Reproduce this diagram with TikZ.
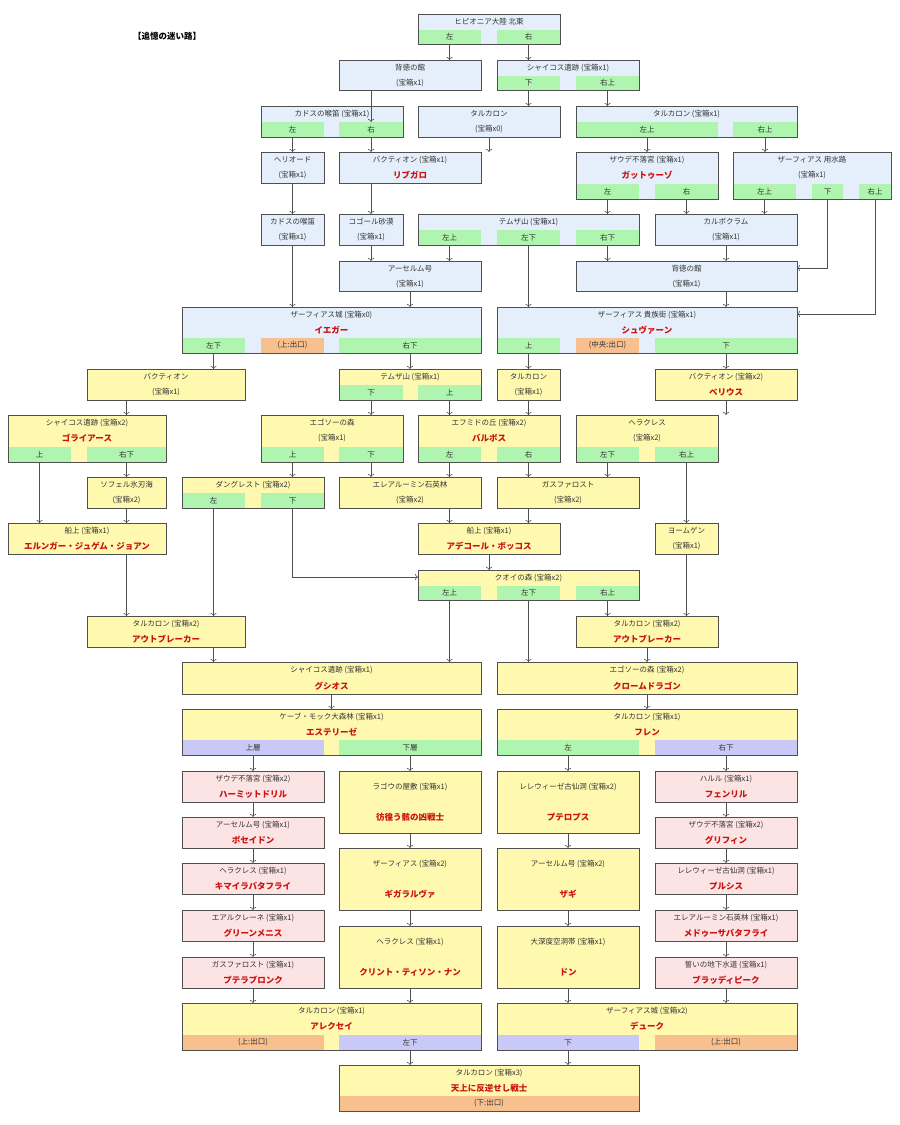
\documentclass[tikz,border=0pt]{standalone}
\usepackage{fontspec}
\setmainfont{Noto Sans CJK JP}
\usetikzlibrary{arrows.meta}
\definecolor{cblue}{HTML}{E4EFFB}
\definecolor{cyel}{HTML}{FFF9AF}
\definecolor{cpink}{HTML}{FDE4E4}
\definecolor{cgreen}{HTML}{AFF5AF}
\definecolor{corange}{HTML}{F9C08F}
\definecolor{clav}{HTML}{C9C9F7}
\definecolor{cred}{HTML}{CC1111}
\definecolor{cline}{HTML}{505050}
\tikzset{
 bxs/.style={draw=cline, line width=0.7pt, inner sep=0pt, outer sep=0pt},
 bline/.style={draw=cline, line width=0.7pt},
 stps/.style={inner sep=0pt, outer sep=0pt, font=\fontsize{7.5}{8}\selectfont, text=black!80},
 tt/.style={font=\fontsize{7.5}{8}\selectfont, inner sep=0pt, text=black!80},
 rd/.style={font=\fontsize{8.5}{9}\bfseries\selectfont, text=cred, inner sep=0pt},
 arr/.style={draw=cline, line width=0.6pt, -{To[length=3pt,width=6pt]}},
}
\newcommand\bx[6]{\node[bxs,fill=#6,minimum width={(#4)-(#2)},minimum height={(#5)-(#3)}] (#1) at ({((#2)+(#4))/2},{((#3)+(#5))/2}) {};}
\newcommand\stp[7]{\node[stps,fill=#6,minimum width={(#3)-(#2)},minimum height={(#5)-(#4)}] (#1) at ({((#2)+(#3))/2},{((#4)+(#5))/2}) {#7};}
\newcommand\bd[1]{\draw[bline] (#1.north west) rectangle (#1.south east);}
\newcommand\tx[4]{\node[tt] at ({((#1)+(#2))/2},#3) {#4};}
\newcommand\rt[4]{\node[rd] at ({((#1)+(#2))/2},#3) {#4};}
\begin{document}
\begin{tikzpicture}[x=1pt,y=-1pt]
\fill[white] (0,0) rectangle (900,1125);
\useasboundingbox (0,0) rectangle (900,1125);
\node[font=\fontsize{8.5}{9}\bfseries\selectfont] (ttl) at (167,36) {【追憶の迷い路】};
% Row 1
\bx{A}{418}{14}{560}{44}{cblue}\tx{418}{560}{22}{ヒピオニア大陸 北東}
\stp{Al}{418}{481}{30}{44}{cgreen}{左}\stp{Ar}{497}{560}{30}{44}{cgreen}{右}\bd{A}
% Row 2
\bx{B1}{339}{60}{481}{90}{cblue}\tx{339}{481}{68}{背徳の館}\tx{339}{481}{83}{(宝箱x1)}
\bx{B2}{497}{60}{639}{90}{cblue}\tx{497}{639}{68}{シャイコス遺跡 (宝箱x1)}
\stp{B2d}{497}{560}{76}{90}{cgreen}{下}\stp{B2r}{576}{639}{76}{90}{cgreen}{右上}\bd{B2}
% Row 3
\bx{C1}{261}{106}{403}{137}{cblue}\tx{261}{403}{114}{カドスの喉笛 (宝箱x1)}
\stp{C1l}{261}{324}{122}{137}{cgreen}{左}\stp{C1r}{339}{403}{122}{137}{cgreen}{右}\bd{C1}
\bx{C2}{418}{106}{560}{137}{cblue}\tx{418}{560}{114}{タルカロン}\tx{418}{560}{129}{(宝箱x0)}
\bx{C3}{576}{106}{797}{137}{cblue}\tx{576}{797}{114}{タルカロン (宝箱x1)}
\stp{C3l}{576}{718}{122}{137}{cgreen}{左上}\stp{C3r}{733}{797}{122}{137}{cgreen}{右上}\bd{C3}
% Row 4
\bx{D1}{261}{152}{324}{183}{cblue}\tx{261}{324}{160}{ヘリオード}\tx{261}{324}{175}{(宝箱x1)}
\bx{D2}{339}{152}{481}{183}{cblue}\tx{339}{481}{160}{バクティオン (宝箱x1)}\rt{339}{481}{175}{リブガロ}
\bx{D3}{576}{152}{718}{199}{cblue}\tx{576}{718}{160}{ザウデ不落宮 (宝箱x1)}\rt{576}{718}{175}{ガットゥーゾ}
\stp{D3l}{576}{639}{184}{199}{cgreen}{左}\stp{D3r}{655}{718}{184}{199}{cgreen}{右}\bd{D3}
\bx{D4}{733}{152}{891}{199}{cblue}\tx{733}{891}{160}{ザーフィアス 用水路}\tx{733}{891}{175}{(宝箱x1)}
\stp{D4l}{733}{796}{184}{199}{cgreen}{左上}\stp{D4d}{812}{843}{184}{199}{cgreen}{下}\stp{D4r}{859}{891}{184}{199}{cgreen}{右上}\bd{D4}
% Row 5
\bx{E1}{261}{214}{324}{245}{cblue}\tx{261}{324}{222}{カドスの喉笛}\tx{261}{324}{237}{(宝箱x1)}
\bx{E2}{339}{214}{403}{245}{cblue}\tx{339}{403}{222}{コゴール砂漠}\tx{339}{403}{237}{(宝箱x1)}
\bx{E3}{418}{214}{639}{245}{cblue}\tx{418}{639}{222}{テムザ山 (宝箱x1)}
\stp{E3a}{418}{481}{230}{245}{cgreen}{左上}\stp{E3b}{497}{560}{230}{245}{cgreen}{左下}\stp{E3c}{576}{639}{230}{245}{cgreen}{右下}\bd{E3}
\bx{E4}{655}{214}{797}{245}{cblue}\tx{655}{797}{222}{カルボクラム}\tx{655}{797}{237}{(宝箱x1)}
% Row 6
\bx{F1}{339}{261}{481}{291}{cblue}\tx{339}{481}{269}{アーセルム号}\tx{339}{481}{284}{(宝箱x1)}
\bx{F2}{576}{261}{797}{291}{cblue}\tx{576}{797}{269}{背徳の館}\tx{576}{797}{284}{(宝箱x1)}
% Row 7
\bx{G1}{182}{307}{481}{353}{cblue}\tx{182}{481}{315}{ザーフィアス城 (宝箱x0)}\rt{182}{481}{330}{イエガー}
\stp{G1l}{182}{245}{338}{353}{cgreen}{左下}\stp{G1o}{261}{324}{338}{353}{corange}{(上:出口)}\stp{G1r}{339}{481}{338}{353}{cgreen}{右下}\bd{G1}
\bx{G2}{497}{307}{797}{353}{cblue}\tx{497}{797}{315}{ザーフィアス 貴族街 (宝箱x1)}\rt{497}{797}{330}{シュヴァーン}
\stp{G2u}{497}{560}{338}{353}{cgreen}{上}\stp{G2o}{576}{639}{338}{353}{corange}{(中央:出口)}\stp{G2d}{655}{797}{338}{353}{cgreen}{下}\bd{G2}
% Row 8
\bx{H1}{87}{369}{245}{400}{cyel}\tx{87}{245}{377}{バクティオン}\tx{87}{245}{392}{(宝箱x1)}
\bx{H2}{339}{369}{481}{400}{cyel}\tx{339}{481}{377}{テムザ山 (宝箱x1)}
\stp{H2d}{339}{403}{385}{400}{cgreen}{下}\stp{H2u}{418}{481}{385}{400}{cgreen}{上}\bd{H2}
\bx{H3}{497}{369}{560}{400}{cyel}\tx{497}{560}{377}{タルカロン}\tx{497}{560}{392}{(宝箱x1)}
\bx{H4}{655}{369}{797}{400}{cyel}\tx{655}{797}{377}{バクティオン (宝箱x2)}\rt{655}{797}{392}{ベリウス}
% Row 9
\bx{I1}{8}{415}{166}{462}{cyel}\tx{8}{166}{423}{シャイコス遺跡 (宝箱x2)}\rt{8}{166}{438}{ゴライアース}
\stp{I1u}{8}{71}{447}{462}{cgreen}{上}\stp{I1r}{87}{166}{447}{462}{cgreen}{右下}\bd{I1}
\bx{I2}{261}{415}{403}{462}{cyel}\tx{261}{403}{423}{エゴソーの森}\tx{261}{403}{438}{(宝箱x1)}
\stp{I2u}{261}{324}{447}{462}{cgreen}{上}\stp{I2d}{339}{403}{447}{462}{cgreen}{下}\bd{I2}
\bx{I3}{418}{415}{560}{462}{cyel}\tx{418}{560}{423}{エフミドの丘 (宝箱x2)}\rt{418}{560}{438}{バルボス}
\stp{I3l}{418}{481}{447}{462}{cgreen}{左}\stp{I3r}{497}{560}{447}{462}{cgreen}{右}\bd{I3}
\bx{I4}{576}{415}{718}{462}{cyel}\tx{576}{718}{423}{ヘラクレス}\tx{576}{718}{438}{(宝箱x2)}
\stp{I4l}{576}{639}{447}{462}{cgreen}{左下}\stp{I4r}{655}{718}{447}{462}{cgreen}{右上}\bd{I4}
% Row 10
\bx{J1}{87}{477}{166}{508}{cyel}\tx{87}{166}{485}{ソフェル氷刃海}\tx{87}{166}{500}{(宝箱x2)}
\bx{J2}{182}{477}{324}{508}{cyel}\tx{182}{324}{485}{ダングレスト (宝箱x2)}
\stp{J2l}{182}{245}{493}{508}{cgreen}{左}\stp{J2d}{261}{324}{493}{508}{cgreen}{下}\bd{J2}
\bx{J3}{339}{477}{481}{508}{cyel}\tx{339}{481}{485}{エレアルーミン石英林}\tx{339}{481}{500}{(宝箱x2)}
\bx{J4}{497}{477}{639}{508}{cyel}\tx{497}{639}{485}{ガスファロスト}\tx{497}{639}{500}{(宝箱x2)}
% Row 11
\bx{K1}{8}{523}{166}{554}{cyel}\tx{8}{166}{531}{船上 (宝箱x1)}\rt{8}{166}{546}{エルンガー・ジュゲム・ジョアン}
\bx{K2}{418}{523}{560}{554}{cyel}\tx{418}{560}{531}{船上 (宝箱x1)}\rt{418}{560}{546}{アデコール・ボッコス}
\bx{K3}{655}{523}{718}{554}{cyel}\tx{655}{718}{531}{ヨームゲン}\tx{655}{718}{546}{(宝箱x1)}
% Row 12
\bx{L1}{418}{570}{639}{600}{cyel}\tx{418}{639}{578}{クオイの森 (宝箱x2)}
\stp{L1a}{418}{481}{586}{600}{cgreen}{左上}\stp{L1b}{497}{560}{586}{600}{cgreen}{左下}\stp{L1c}{576}{639}{586}{600}{cgreen}{右上}\bd{L1}
% Row 13
\bx{M1}{87}{616}{245}{647}{cyel}\tx{87}{245}{624}{タルカロン (宝箱x2)}\rt{87}{245}{639}{アウトブレーカー}
\bx{M2}{576}{616}{718}{647}{cyel}\tx{576}{718}{624}{タルカロン (宝箱x2)}\rt{576}{718}{639}{アウトブレーカー}
% Row 14
\bx{N1}{182}{662}{481}{694}{cyel}\tx{182}{481}{670}{シャイコス遺跡 (宝箱x1)}\rt{182}{481}{686}{グシオス}
\bx{N2}{497}{662}{797}{694}{cyel}\tx{497}{797}{670}{エゴソーの森 (宝箱x2)}\rt{497}{797}{686}{クロームドラゴン}
% Row 15
\bx{O1}{182}{709}{481}{755}{cyel}\tx{182}{481}{717}{ケーブ・モック大森林 (宝箱x1)}\rt{182}{481}{732}{エステリーゼ}
\stp{O1u}{182}{324}{740}{755}{clav}{上層}\stp{O1d}{339}{481}{740}{755}{cgreen}{下層}\bd{O1}
\bx{O2}{497}{709}{797}{755}{cyel}\tx{497}{797}{717}{タルカロン (宝箱x1)}\rt{497}{797}{732}{フレン}
\stp{O2l}{497}{639}{740}{755}{cgreen}{左}\stp{O2r}{655}{797}{740}{755}{clav}{右下}\bd{O2}
% Pink left column
\bx{P1}{182}{771}{324}{802}{cpink}\tx{182}{324}{779}{ザウデ不落宮 (宝箱x2)}\rt{182}{324}{794}{ハーミットドリル}
\bx{P2}{182}{817}{324}{848}{cpink}\tx{182}{324}{825}{アーセルム号 (宝箱x1)}\rt{182}{324}{840}{ポセイドン}
\bx{P3}{182}{863}{324}{894}{cpink}\tx{182}{324}{871}{ヘラクレス (宝箱x1)}\rt{182}{324}{886}{キマイラバタフライ}
\bx{P4}{182}{910}{324}{941}{cpink}\tx{182}{324}{918}{エアルクレーネ (宝箱x1)}\rt{182}{324}{933}{グリーンメニス}
\bx{P5}{182}{957}{324}{988}{cpink}\tx{182}{324}{965}{ガスファロスト (宝箱x1)}\rt{182}{324}{980}{プテラブロンク}
% Yellow tall column
\bx{Q1}{339}{771}{481}{833}{cyel}\tx{339}{481}{787}{ラゴウの屋敷 (宝箱x1)}\rt{339}{481}{817}{彷徨う骸の凶戦士}
\bx{Q2}{339}{848}{481}{910}{cyel}\tx{339}{481}{864}{ザーフィアス (宝箱x2)}\rt{339}{481}{894}{ギガラルヴァ}
\bx{Q3}{339}{926}{481}{988}{cyel}\tx{339}{481}{942}{ヘラクレス (宝箱x1)}\rt{339}{481}{972}{クリント・ティソン・ナン}
\bx{S1}{497}{771}{639}{833}{cyel}\tx{497}{639}{787}{レレウィーゼ古仙洞 (宝箱x2)}\rt{497}{639}{817}{プテロプス}
\bx{S2}{497}{848}{639}{910}{cyel}\tx{497}{639}{864}{アーセルム号 (宝箱x2)}\rt{497}{639}{894}{ザギ}
\bx{S3}{497}{926}{639}{988}{cyel}\tx{497}{639}{942}{大深度空洞帯 (宝箱x1)}\rt{497}{639}{972}{ドン}
% Pink right column
\bx{R1}{655}{771}{797}{802}{cpink}\tx{655}{797}{779}{ハルル (宝箱x1)}\rt{655}{797}{794}{フェンリル}
\bx{R2}{655}{817}{797}{848}{cpink}\tx{655}{797}{825}{ザウデ不落宮 (宝箱x2)}\rt{655}{797}{840}{グリフィン}
\bx{R3}{655}{863}{797}{894}{cpink}\tx{655}{797}{871}{レレウィーゼ古仙洞 (宝箱x1)}\rt{655}{797}{886}{プルシス}
\bx{R4}{655}{910}{797}{941}{cpink}\tx{655}{797}{918}{エレアルーミン石英林 (宝箱x1)}\rt{655}{797}{933}{メドゥーサバタフライ}
\bx{R5}{655}{957}{797}{988}{cpink}\tx{655}{797}{965}{誓いの地下水道 (宝箱x1)}\rt{655}{797}{980}{ブラッディピーク}
% Bottom rows
\bx{T1}{182}{1003}{481}{1050}{cyel}\tx{182}{481}{1011}{タルカロン (宝箱x1)}\rt{182}{481}{1026}{アレクセイ}
\stp{T1o}{182}{324}{1035}{1050}{corange}{(上:出口)}\stp{T1d}{339}{481}{1035}{1050}{clav}{左下}\bd{T1}
\bx{T2}{497}{1003}{797}{1050}{cyel}\tx{497}{797}{1011}{ザーフィアス城 (宝箱x2)}\rt{497}{797}{1026}{デューク}
\stp{T2d}{497}{639}{1035}{1050}{clav}{下}\stp{T2o}{655}{797}{1035}{1050}{corange}{(上:出口)}\bd{T2}
\bx{U}{339}{1065}{639}{1111}{cyel}\tx{339}{639}{1073}{タルカロン (宝箱x3)}\rt{339}{639}{1088}{天上に反逆せし戦士}
\stp{Uo}{339}{639}{1096}{1111}{corange}{(下:出口)}\bd{U}
% Connectors
\draw[arr] (Al.south) -- (Al.south |- B1.north);
\draw[arr] (Ar.south) -- (Ar.south |- B2.north);
\draw[arr] (C1r.north |- B1.south) -- (C1r.north);
\draw[arr] (B2d.south) -- (B2d.south |- C2.north);
\draw[arr] (B2r.south) -- (B2r.south |- C3.north);
\draw[arr] (C1l.south) -- (C1l.south |- D1.north);
\draw[arr] (C1r.south) -- (C1r.south |- D2.north);
\draw[arr] (C2.south) -- (C2.south |- D2.north);
\draw[arr] (C3l.south) -- (C3l.south |- D3.north);
\draw[arr] (C3r.south) -- (C3r.south |- D4.north);
\draw[arr] (D1.south) -- (D1.south |- E1.north);
\draw[arr] (C1r.south |- D2.south) -- (C1r.south |- E2.north);
\draw[arr] (D3l.south) -- (D3l.south |- E3.north);
\draw[arr] (D3r.south) -- (D3r.south |- E4.north);
\draw[arr] (D4l.south) -- (D4l.south |- E4.north);
\draw[arr] (D4d.south) |- ([yshift=8pt]F2.east);
\draw[arr] (D4r.south) |- ([yshift=16pt]G2.east);
\draw[arr] (E1.south) -- (E1.south |- G1.north);
\draw[arr] (E2.south) -- (E2.south |- F1.north);
\draw[arr] (E3a.south) -- (E3a.south |- F1.north);
\draw[arr] (E3b.south) -- (E3b.south |- G2.north);
\draw[arr] (E3c.south) -- (E3c.south |- F2.north);
\draw[arr] (E4.south) -- (E4.south |- F2.north);
\draw[arr] (G1r.north |- F1.south) -- (G1r.north |- G1.north);
\draw[arr] (E4.south |- F2.south) -- (E4.south |- G2.north);
\draw[arr] (G1l.south) -- (G1l.south |- H1.north);
\draw[arr] (G1r.south) -- (G1r.south |- H2.north);
\draw[arr] (G2u.south) -- (G2u.south |- H3.north);
\draw[arr] (G2d.south) -- (G2d.south |- H4.north);
\draw[arr] (I1r.north |- H1.south) -- (I1r.north |- I1.north);
\draw[arr] (H2d.south) -- (H2d.south |- I2.north);
\draw[arr] (H2u.south) -- (H2u.south |- I3.north);
\draw[arr] (H3.south) -- (H3.south |- I3.north);
\draw[arr] (E4.south |- H4.south) -- (E4.south |- I4.north);
\draw[arr] (I1u.south) -- (I1u.south |- K1.north);
\draw[arr] (I1r.south) -- (I1r.south |- J1.north);
\draw[arr] (I2u.south) -- (I2u.south |- J2.north);
\draw[arr] (I2d.south) -- (I2d.south |- J3.north);
\draw[arr] (I3l.south) -- (I3l.south |- J3.north);
\draw[arr] (I3r.south) -- (I3r.south |- J4.north);
\draw[arr] (I4l.south) -- (I4l.south |- J4.north);
\draw[arr] (I4r.south) -- (I4r.south |- K3.north);
\draw[arr] (J1.south) -- (J1.south |- K1.north);
\draw[arr] (J2l.south) -- (J2l.south |- M1.north);
\draw[arr] (J2d.south) |- ([yshift=8pt]L1.west);
\draw[arr] (I3l.south |- J3.south) -- (I3l.south |- K2.north);
\draw[arr] (I3r.south |- J4.south) -- (I3r.south |- K2.north);
\draw[arr] (J1.south |- K1.south) -- (J1.south |- M1.north);
\draw[arr] (K2.south) -- (K2.south |- L1.north);
\draw[arr] (K3.south) -- (K3.south |- M2.north);
\draw[arr] (L1a.south) -- (L1a.south |- N1.north);
\draw[arr] (L1b.south) -- (L1b.south |- N2.north);
\draw[arr] (L1c.south) -- (L1c.south |- M2.north);
\draw[arr] (J2l.south |- M1.south) -- (J2l.south |- N1.north);
\draw[arr] (M2.south) -- (M2.south |- N2.north);
\draw[arr] (N1.south) -- (N1.south |- O1.north);
\draw[arr] (N2.south) -- (N2.south |- O2.north);
\draw[arr] (O1u.south) -- (O1u.south |- P1.north);
\draw[arr] (O1d.south) -- (O1d.south |- Q1.north);
\draw[arr] (O2l.south) -- (O2l.south |- S1.north);
\draw[arr] (O2r.south) -- (O2r.south |- R1.north);
\draw[arr] (P1.south) -- (P2.north);
\draw[arr] (P2.south) -- (P3.north);
\draw[arr] (P3.south) -- (P4.north);
\draw[arr] (P4.south) -- (P5.north);
\draw[arr] (P5.south) -- (P5.south |- T1.north);
\draw[arr] (Q1.south) -- (Q2.north);
\draw[arr] (Q2.south) -- (Q3.north);
\draw[arr] (Q3.south) -- (Q3.south |- T1.north);
\draw[arr] (S1.south) -- (S2.north);
\draw[arr] (S2.south) -- (S3.north);
\draw[arr] (S3.south) -- (S3.south |- T2.north);
\draw[arr] (R1.south) -- (R2.north);
\draw[arr] (R2.south) -- (R3.north);
\draw[arr] (R3.south) -- (R4.north);
\draw[arr] (R4.south) -- (R5.north);
\draw[arr] (R5.south) -- (R5.south |- T2.north);
\draw[arr] (T1d.south) -- (T1d.south |- U.north);
\draw[arr] (T2d.south) -- (T2d.south |- U.north);
\end{tikzpicture}
\end{document}
